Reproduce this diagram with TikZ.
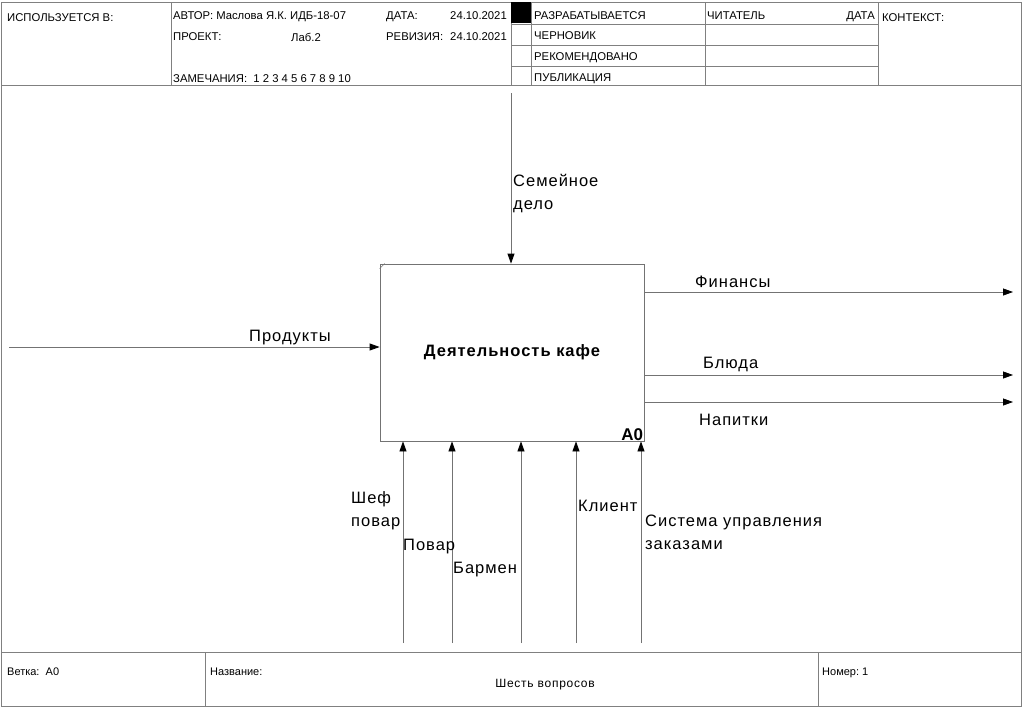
\documentclass[tikz,border=0pt]{standalone}
\usepackage{fontspec}
\setmainfont{Liberation Sans}
\usetikzlibrary{arrows.meta}

\begin{document}
\begin{tikzpicture}[x=1pt,y=-1pt,
  rule/.style={draw=black!50, line width=0.7pt},
  flow/.style={draw=black!55, line width=0.8pt,
    -{Triangle[length=10pt,width=7pt,color=black]}},
  hdr/.style={font=\fontsize{11.3}{13}\selectfont, inner sep=0pt, anchor=base west},
  lbl/.style={font=\fontsize{16.5}{23}\selectfont\addfontfeature{LetterSpace=6}, inner sep=0pt, anchor=base west, align=left},
  ftr/.style={font=\fontsize{11}{13}\selectfont, inner sep=0pt, anchor=base west},
  actbox/.style={draw=black!55, line width=0.8pt, minimum width=264pt, minimum height=177pt,
    inner sep=0pt, font=\fontsize{16.5}{19}\selectfont\bfseries\addfontfeature{LetterSpace=6}}]

\useasboundingbox (0,0) rectangle (1023,707);

% ---- outer frame, header and footer grid
\draw[rule] (1,2) rectangle (1021,706);
\draw[rule] (1,85) -- (1021,85);
\draw[rule] (1,652) -- (1021,652);
\draw[rule] (171,2) -- (171,85);
\draw[rule] (511,2) -- (511,85);
\draw[rule] (531,2) -- (531,85);
\draw[rule] (705,2) -- (705,85);
\draw[rule] (878,2) -- (878,85);
\foreach \yy in {24,45,66} \draw[rule] (511,\yy) -- (878,\yy);
\fill[black] (511,2) rectangle (531,23);
\draw[rule] (205,652) -- (205,706);
\draw[rule] (818,652) -- (818,706);

% ---- header texts
\node[hdr] (used) at (7,21) {ИСПОЛЬЗУЕТСЯ В:};
\node[hdr] (author) at (173,19) {АВТОР: Маслова Я.К. ИДБ-18-07};
\node[hdr] (date) at (386,19) {ДАТА:};
\node[hdr, anchor=base east] (dateval) at (507,19) {24.10.2021};
\node[hdr] (project) at (173,40) {ПРОЕКТ:};
\node[hdr, anchor=base] (projval) at (306,41) {Лаб.2};
\node[hdr] (revision) at (386,40) {РЕВИЗИЯ:};
\node[hdr, anchor=base east] (revval) at (507,40) {24.10.2021};
\node[hdr] (notes) at (173,82) {ЗАМЕЧАНИЯ:\ \ 1 2 3 4 5 6 7 8 9 10};
\node[hdr] (st1) at (534,19) {РАЗРАБАТЫВАЕТСЯ};
\node[hdr] (st2) at (534,39) {ЧЕРНОВИК};
\node[hdr] (st3) at (534,60) {РЕКОМЕНДОВАНО};
\node[hdr] (st4) at (534,81) {ПУБЛИКАЦИЯ};
\node[hdr] (reader) at (707,19) {ЧИТАТЕЛЬ};
\node[hdr, anchor=base east] (rdate) at (875,19) {ДАТА};
\node[hdr] (context) at (882,21) {КОНТЕКСТ:};

% ---- footer texts
\node[ftr] (branch) at (7,675) {Ветка:\ \ А0};
\node[ftr] (title) at (210,675) {Название:};
\node[ftr, anchor=base, font=\fontsize{12}{14}\selectfont\addfontfeature{LetterSpace=6}] (titleval) at (545,687) {Шесть вопросов};
\node[ftr] (number) at (822,675) {Номер:\ 1};

% ---- activity box
\node[actbox] (a0) at (512,352.5) {Деятельность кафе};
\draw[black!55, line width=0.6pt] ([yshift=-5pt]a0.north west) -- ([xshift=5pt]a0.north west);
\node[anchor=south east, inner sep=1pt, font=\fontsize{17}{19}\selectfont\bfseries] (a0id) at (a0.south east) {A0};

% ---- free ends of the arrows
\coordinate (ctl) at (511,93);
\coordinate (inp) at (9,347);
\coordinate (o1) at (1013,292);
\coordinate (o2) at (1013,375);
\coordinate (o3) at (1013,402);
\coordinate (m1) at (403,643);
\coordinate (m2) at (452,643);
\coordinate (m3) at (521,643);
\coordinate (m4) at (576,643);
\coordinate (m5) at (641,643);

% ---- control, input, outputs
\draw[flow] (ctl) -- (ctl |- a0.north);
\draw[flow] (inp) -- (inp -| a0.west);
\draw[flow] (o1 -| a0.east) -- (o1);
\draw[flow] (o2 -| a0.east) -- (o2);
\draw[flow] (o3 -| a0.east) -- (o3);

% ---- mechanisms
\foreach \m in {m1,m2,m3,m4,m5}
  \draw[flow] (\m) -- (\m |- a0.south);

% ---- arrow labels (base anchor of a two-line label sits on its last line)
\node[lbl] (lctl) at (513,209) {Семейное\\дело};
\node[lbl] (linp) at (249,341) {Продукты};
\node[lbl] (lo1) at (695,287) {Финансы};
\node[lbl] (lo2) at (703,368) {Блюда};
\node[lbl] (lo3) at (699,425) {Напитки};
\node[lbl] (lm1) at (351,526) {Шеф\\повар};
\node[lbl] (lm2) at (403,550) {Повар};
\node[lbl] (lm3) at (453,573) {Бармен};
\node[lbl] (lm4) at (578,511) {Клиент};
\node[lbl] (lm5) at (645,549) {Система управления\\заказами};

\end{tikzpicture}
\end{document}
